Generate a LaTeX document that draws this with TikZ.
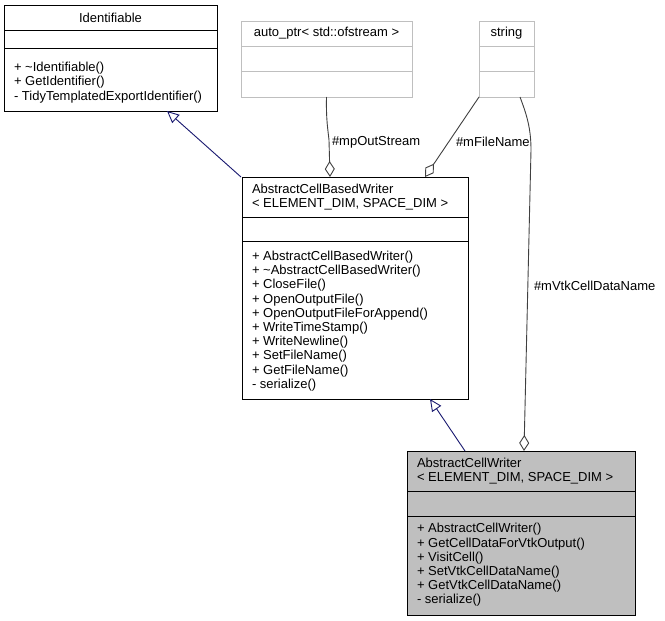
\documentclass[tikz,border=0pt]{standalone}
\usepackage{fontspec}
\setmainfont{Liberation Sans}
\usetikzlibrary{arrows.meta,calc}
\definecolor{edgeblue}{HTML}{191970}
\definecolor{edgegray}{HTML}{404040}
\definecolor{boxgray}{HTML}{BFBFBF}
\begin{document}
\begin{tikzpicture}[x=1pt,y=-1pt,
  every node/.style={font=\fontsize{13}{14.2}\selectfont, inner sep=0pt, outer sep=0pt},
  cls/.style={draw=black, line width=1pt, anchor=north west, rectangle},
  extcls/.style={draw=boxgray, line width=1pt, anchor=north west, rectangle},
  sepline/.style={draw=black, line width=1pt},
  extsep/.style={draw=boxgray, line width=1pt},
  txt/.style={anchor=west, align=left},
  ctxt/.style={anchor=center, align=center},
  inherit/.style={draw=edgeblue, line width=0.9pt, -{Triangle[open, length=12pt, width=11pt, fill=white]}},
  aggr/.style={draw=edgegray, line width=0.9pt, -{Diamond[open, length=16pt, width=10pt, fill=white]}},
  elabel/.style={anchor=west}
]
\fill[white] (0,0) rectangle (665,621);
\useasboundingbox (0,0) rectangle (665,621);

% Identifiable
\node[cls, minimum width=213pt, minimum height=106pt] (id) at (4,5) {};
\draw[sepline] ([yshift=-25pt]id.north west) -- ([yshift=-25pt]id.north east);
\draw[sepline] ([yshift=-43pt]id.north west) -- ([yshift=-43pt]id.north east);
\node[ctxt] (idt) at (110.5,17.5) {Identifiable};
\node[txt] (idm) at (14,82.5) {+ \textasciitilde Identifiable()\\+ GetIdentifier()\\- TidyTemplatedExportIdentifier()};

% auto_ptr
\node[extcls, minimum width=171pt, minimum height=76pt] (ap) at (241,21) {};
\draw[extsep] ([yshift=-25pt]ap.north west) -- ([yshift=-25pt]ap.north east);
\draw[extsep] ([yshift=-50pt]ap.north west) -- ([yshift=-50pt]ap.north east);
\node[ctxt] (apt) at (326.5,33.5) {auto\_ptr< std::ofstream >};

% string
\node[extcls, minimum width=55pt, minimum height=76pt] (st) at (479,21) {};
\draw[extsep] ([yshift=-25pt]st.north west) -- ([yshift=-25pt]st.north east);
\draw[extsep] ([yshift=-50pt]st.north west) -- ([yshift=-50pt]st.north east);
\node[ctxt] (stt) at (506.5,33.5) {string};

% AbstractCellBasedWriter
\node[cls, minimum width=226pt, minimum height=222pt] (acbw) at (242,177) {};
\draw[sepline] ([yshift=-40pt]acbw.north west) -- ([yshift=-40pt]acbw.north east);
\draw[sepline] ([yshift=-64pt]acbw.north west) -- ([yshift=-64pt]acbw.north east);
\node[txt] (acbwt) at (252,197) {AbstractCellBasedWriter\\< ELEMENT\_DIM, SPACE\_DIM >};
\node[txt] (acbwm) at (252,321) {+ AbstractCellBasedWriter()\\+ \textasciitilde AbstractCellBasedWriter()\\+ CloseFile()\\+ OpenOutputFile()\\+ OpenOutputFileForAppend()\\+ WriteTimeStamp()\\+ WriteNewline()\\+ SetFileName()\\+ GetFileName()\\- serialize()};

% AbstractCellWriter
\node[cls, fill=boxgray, minimum width=228pt, minimum height=164pt] (acw) at (407,451) {};
\draw[sepline] ([yshift=-40pt]acw.north west) -- ([yshift=-40pt]acw.north east);
\draw[sepline] ([yshift=-65pt]acw.north west) -- ([yshift=-65pt]acw.north east);
\node[txt] (acwt) at (417,471) {AbstractCellWriter\\< ELEMENT\_DIM, SPACE\_DIM >};
\node[txt] (acwm) at (417,565) {+ AbstractCellWriter()\\+ GetCellDataForVtkOutput()\\+ VisitCell()\\+ SetVtkCellDataName()\\+ GetVtkCellDataName()\\- serialize()};

% inheritance
\draw[inherit] ([xshift=-1pt]acbw.north west) -- ([xshift=56.5pt]id.south);
\draw[inherit] ([xshift=58pt]acw.north west) -- ([xshift=-38pt]acbw.south east);

% aggregation
\coordinate (b1) at (329,140);
\draw[aggr] (ap.south) .. controls (326,120) and (328,130) .. (b1) -- ([xshift=-25pt]acbw.north);
\node[elabel] (l1) at (332,142) {\#mpOutStream};
\draw[aggr] (st.south west) -- ([xshift=-43pt]acbw.north east);
\node[elabel] (l2) at (456,142) {\#mFileName};
\coordinate (b2) at (531,150);
\draw[aggr] ([xshift=-14pt]st.south east) .. controls (526,113) and (531,127) .. (b2) -- ([xshift=3pt]acw.north);
\node[elabel] (l3) at (534,286) {\#mVtkCellDataName};
\end{tikzpicture}
\end{document}
